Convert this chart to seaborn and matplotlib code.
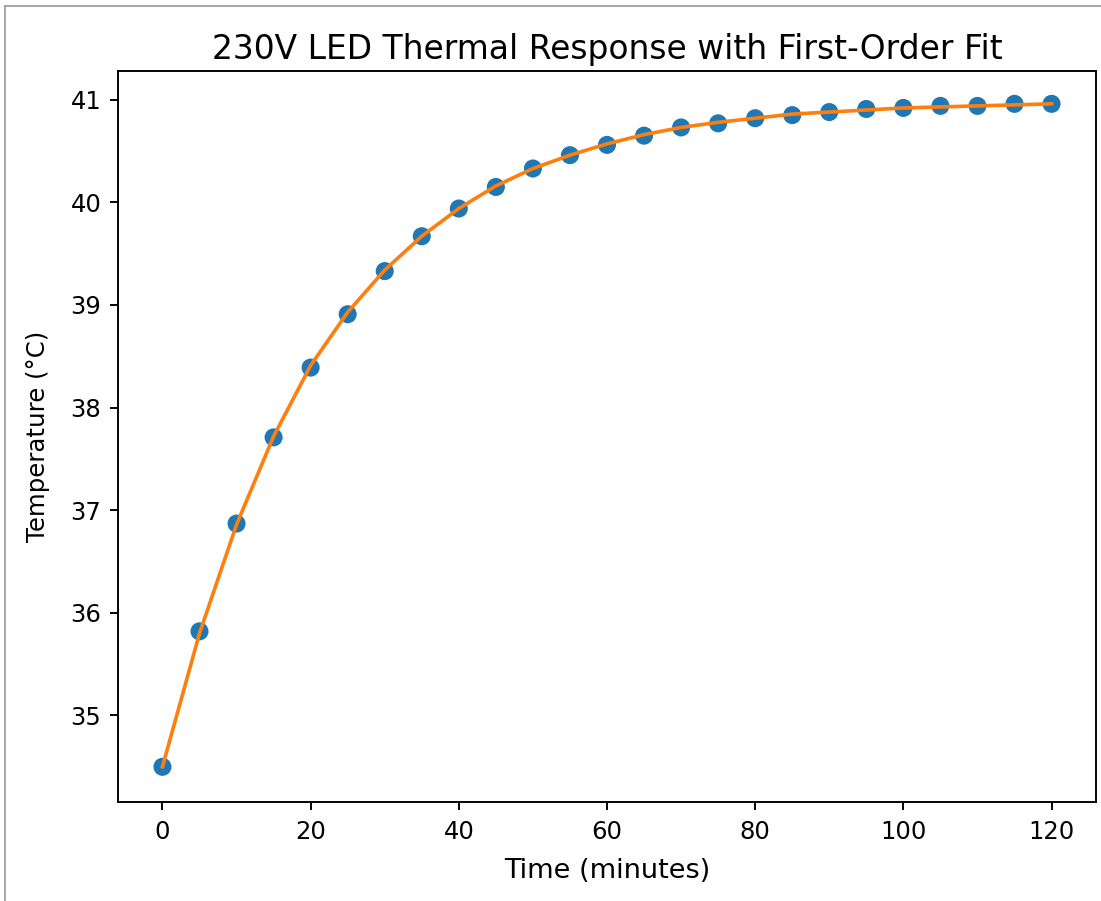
import matplotlib
matplotlib.use("Agg")
import matplotlib.pyplot as plt
from matplotlib.lines import Line2D
import seaborn as sns
import pandas as pd

# Data
time_min = [0, 5, 10, 15, 20, 25, 30, 35, 40, 45, 50, 55, 60,
            65, 70, 75, 80, 85, 90, 95, 100, 105, 110, 115, 120]
temp_measured = [34.50, 35.82, 36.87, 37.71, 38.39, 38.91, 39.33, 39.67, 39.94,
                 40.15, 40.33, 40.46, 40.56, 40.65, 40.73, 40.77, 40.82, 40.85,
                 40.88, 40.91, 40.92, 40.94, 40.94, 40.96, 40.96]
temp_fit = [34.50, 35.80, 36.86, 37.72, 38.41, 38.93, 39.34, 39.67, 39.94,
            40.16, 40.33, 40.46, 40.57, 40.66, 40.73, 40.78, 40.82, 40.86,
            40.88, 40.90, 40.92, 40.93, 40.94, 40.95, 40.96]

title = "230V LED Thermal Response with First-Order Fit"
xlabel = "Time (minutes)"
ylabel = "Temperature (°C)"

df = pd.DataFrame({"t": time_min, "y": temp_measured, "fit": temp_fit})

plt.rcParams["font.family"] = ["DejaVu Sans"]
fig = plt.figure(figsize=(11.01, 9.01), dpi=100)
ax = fig.add_axes([118 / 1101, 1 - 801.7 / 901, (1096 - 118) / 1101, (801.7 - 71) / 901])

sns.scatterplot(data=df, x="t", y="y", ax=ax, s=169, color="#1f77b4",
                edgecolor="none", linewidth=0, zorder=2)
sns.lineplot(data=df, x="t", y="fit", ax=ax, color="#ff7f0e", linewidth=2.6,
             zorder=3)

ax.set_title(title, fontsize=23.7, pad=9)
ax.set_xlabel(xlabel, fontsize=19.5, labelpad=10)
ax.set_ylabel(ylabel, fontsize=17.6, labelpad=14.5)
ax.set_xticks([0, 20, 40, 60, 80, 100, 120])
ax.set_yticks([35, 36, 37, 38, 39, 40, 41])
ax.tick_params(labelsize=17.5, length=6, width=1.38)
ax.tick_params(axis="x", pad=7.5)
ax.tick_params(axis="y", pad=6)
for sp in ax.spines.values():
    sp.set_linewidth(1.38)
ax.set_xlim(-6, 126)
ax.set_ylim(34.16, 41.28)

# screenshot frame
fig.add_artist(Line2D([4.5 / 1101, 4.5 / 1101], [0, 1 - 6 / 901],
                      transform=fig.transFigure, color="#9a9a9a", linewidth=1.2))
fig.add_artist(Line2D([4.5 / 1101, 1], [1 - 6 / 901, 1 - 6 / 901],
                      transform=fig.transFigure, color="#9a9a9a", linewidth=1.2))

fig.savefig("out.png", dpi=100)
